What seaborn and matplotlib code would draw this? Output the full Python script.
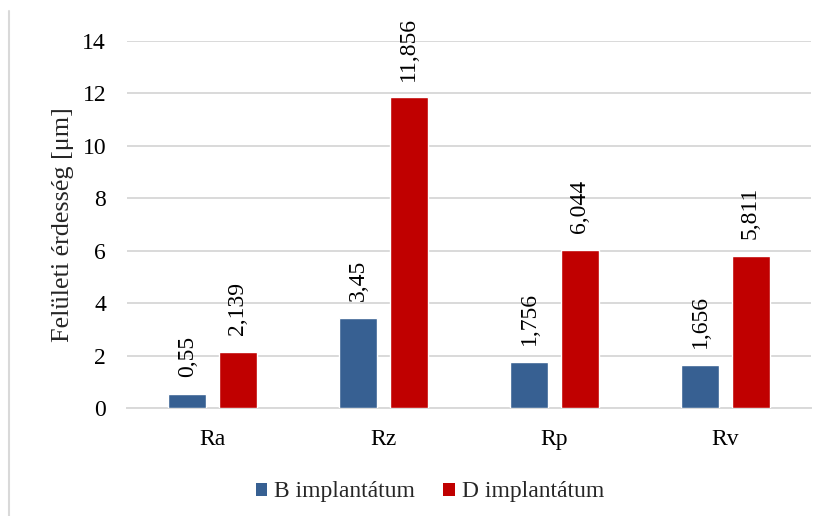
import matplotlib
matplotlib.use("Agg")
import matplotlib.pyplot as plt
from matplotlib.lines import Line2D
from matplotlib.patches import Patch
import seaborn as sns
import pandas as pd

# Surface roughness parameters and measured values [µm]
categories = ["Ra", "Rz", "Rp", "Rv"]
series_names = ["B implantátum", "D implantátum"]
values_b = [0.55, 3.45, 1.756, 1.656]
values_d = [2.139, 11.856, 6.044, 5.811]
y_ticks = [0, 2, 4, 6, 8, 10, 12, 14]
y_label = "Felületi érdesség [μm]"

colors = ["#376092", "#C00000"]
grid_color = "#D9D9D9"

df = pd.DataFrame({
    "param": categories * 2,
    "value": values_b + values_d,
    "implant": [series_names[0]] * len(categories) + [series_names[1]] * len(categories),
})

sns.set_theme(style="white")
plt.rcParams["font.family"] = ["Liberation Serif", "DejaVu Serif"]
FS = 17

fig = plt.figure(figsize=(8.26, 5.16), dpi=100)
ax = fig.add_axes([127 / 826, 1 - 408 / 516, (811 - 127) / 826, (408 - 41) / 516])

sns.barplot(data=df, x="param", y="value", hue="implant", order=categories,
            hue_order=series_names, palette=colors, width=0.585, gap=0.24,
            saturation=1, legend=False, ax=ax, zorder=3)

ax.set_ylim(0, 14)
ax.set_xlim(-0.5, len(categories) - 0.5)
ax.set_yticks(y_ticks)
ax.set_yticklabels([str(t) for t in y_ticks])
ax.yaxis.grid(True, color=grid_color, linewidth=1.4, zorder=0)
ax.set_axisbelow(True)
for side in ["top", "right", "left"]:
    ax.spines[side].set_visible(False)
ax.spines["bottom"].set_color(grid_color)
ax.spines["bottom"].set_linewidth(1.4)
ax.tick_params(axis="both", length=0, labelsize=FS, colors="black")
ax.tick_params(axis="y", pad=15)
ax.tick_params(axis="x", pad=15)
ax.set_xlabel("")
ax.set_ylabel(y_label, fontsize=18.8)
ax.yaxis.set_label_coords(-0.0775, 0.5)

# Rotated value labels with decimal commas
for container in ax.containers:
    labels = [f"{bar.get_height():g}".replace(".", ",") for bar in container]
    ax.bar_label(container, labels=labels, rotation=90, padding=12,
                 fontsize=FS, color="black")

handles = [Patch(facecolor=c, edgecolor="none") for c in colors]
fig.legend(handles, series_names, loc="center", bbox_to_anchor=(430 / 826, 1 - 492 / 516),
           ncol=2, frameon=False, fontsize=FS, handlelength=0.47, handleheight=0.47,
           handletextpad=0.3, columnspacing=1.2)

# Chart area border on the left edge
fig.add_artist(Line2D([9 / 826, 9 / 826], [0, 1 - 11 / 516], transform=fig.transFigure,
                      color=grid_color, linewidth=1.5))

fig.savefig("out.png", dpi=100)
